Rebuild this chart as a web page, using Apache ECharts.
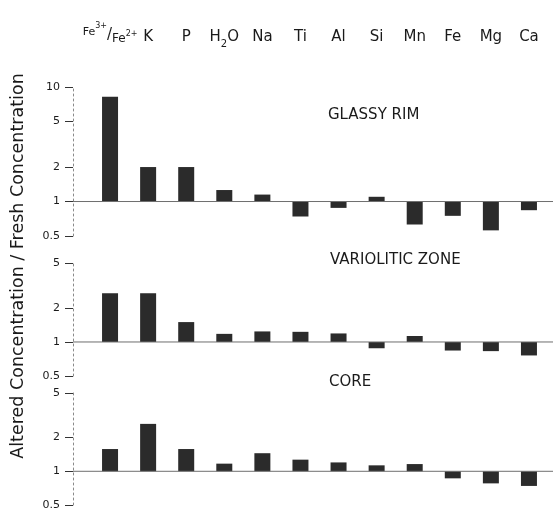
<!DOCTYPE html>
<html><head><meta charset="utf-8">
<script src="https://cdn.jsdelivr.net/npm/echarts@6/dist/echarts.min.js"></script>
<style>html,body{margin:0;padding:0;background:#fff}#c{width:555px;height:512px}</style>
</head><body><div id="c"></div>
<script>
// ---- data ----
const elements = ['Fe3+/Fe2+', 'K', 'P', 'H2O', 'Na', 'Ti', 'Al', 'Si', 'Mn', 'Fe', 'Mg', 'Ca'];
const glassyRim  = [8.2, 2.0, 2.0, 1.26, 1.15, 0.74, 0.88, 1.10, 0.63, 0.75, 0.56, 0.84];
const variolitic = [2.7, 2.7, 1.5, 1.18, 1.24, 1.23, 1.19, 0.88, 1.13, 0.84, 0.83, 0.76];
const core       = [1.58, 2.65, 1.58, 1.17, 1.45, 1.27, 1.20, 1.13, 1.16, 0.865, 0.78, 0.74];
const panelNames = ['GLASSY RIM', 'VARIOLITIC ZONE', 'CORE'];
const ticksTop   = [0.5, 1, 2, 5, 10];
const ticksLower = [0.5, 1, 2, 5];
const yTitle = 'Altered Concentration / Fresh Concentration';

// ---- layout ----
const FONT = 'DejaVu Sans';
const grids = [
  {left: 91, right: 7, top: 87,  height: 149},
  {left: 91, right: 7, top: 263, height: 113},
  {left: 91, right: 7, top: 393, height: 112}
];
const seriesData = [glassyRim, variolitic, core];
const tickSets = [ticksTop, ticksLower, ticksLower];
const maxes = [10, 5, 5];
const labelPos = [[328, 115], [330, 260], [329, 382]];

function headerFmt(v) {
  if (v === 'Fe3+/Fe2+') return '{up|Fe}{sp|3+}{sl|/}{lo|Fe}{sp2|2+}';
  if (v === 'H2O') return 'H{sub|2}O';
  return v;
}

const xAxes = grids.map((g, i) => ({
  type: 'category', gridIndex: i, data: elements,
  position: 'top',
  axisLine: {show: false}, axisTick: {show: false}, splitLine: {show: false},
  axisLabel: i === 0 ? {
    show: true, interval: 0, margin: 42, color: '#1a1a1a', fontFamily: FONT, fontSize: 15,
    formatter: headerFmt,
    rich: {
      up:  {fontSize: 11, fontFamily: FONT, color: '#1a1a1a', verticalAlign: 'bottom', padding: [0, 0, 7, 0]},
      sp:  {fontSize: 8,  fontFamily: FONT, color: '#1a1a1a', verticalAlign: 'bottom', padding: [0, 0, 15, 0]},
      sl:  {fontSize: 15, fontFamily: FONT, color: '#1a1a1a', verticalAlign: 'bottom', padding: [0, 0, 2, 0]},
      lo:  {fontSize: 12, fontFamily: FONT, color: '#1a1a1a', verticalAlign: 'bottom'},
      sp2: {fontSize: 8,  fontFamily: FONT, color: '#1a1a1a', verticalAlign: 'bottom', padding: [0, 0, 7, 0]},
      sub: {fontSize: 10, fontFamily: FONT, color: '#1a1a1a', verticalAlign: 'bottom', padding: [0, 0, -4, 0]}
    }
  } : {show: false}
}));

const yAxes = grids.map((g, i) => ({
  type: 'log', logBase: 10, gridIndex: i, min: 0.5, max: maxes[i], offset: 18,
  axisLine: {show: true, lineStyle: {color: '#8a8a8a', width: 1, type: [2, 3]}},
  axisTick: {show: true, length: 8, customValues: tickSets[i], lineStyle: {color: '#333', width: 1}},
  axisLabel: {show: true, margin: 13, customValues: tickSets[i], color: '#1a1a1a', fontFamily: FONT, fontSize: 11,
              formatter: v => String(+(+v).toPrecision(3))},
  splitLine: {show: false}, minorTick: {show: false}
}));

const series = seriesData.map((d, i) => ({
  type: 'bar', xAxisIndex: i, yAxisIndex: i, data: d,
  barWidth: 16, itemStyle: {color: '#2b2b2b'}, silent: true, animation: false
}));

const chart = echarts.init(document.getElementById('c'), null, {renderer: 'canvas'});
chart.setOption({
  backgroundColor: '#fff', animation: false,
  grid: grids, xAxis: xAxes, yAxis: yAxes, series: series
});

// baselines at value 1, and text
const gfx = [];
grids.forEach((g, i) => {
  const y = chart.convertToPixel({yAxisIndex: i}, 1);
  gfx.push({type: 'line', z: 5, shape: {x1: 73, y1: y, x2: 553, y2: y}, style: {stroke: '#6e6e6e', lineWidth: 1}});
  gfx.push({type: 'text', x: labelPos[i][0], y: labelPos[i][1],
    style: {text: panelNames[i], fill: '#1a1a1a', font: '15px "DejaVu Sans"', verticalAlign: 'middle'}});
});
gfx.push({type: 'text', x: 18, y: 266, rotation: Math.PI / 2,
  style: {text: yTitle, fill: '#1a1a1a', font: '17.5px "DejaVu Sans"', align: 'center', verticalAlign: 'middle'}});
chart.setOption({graphic: gfx});
</script></body></html>
